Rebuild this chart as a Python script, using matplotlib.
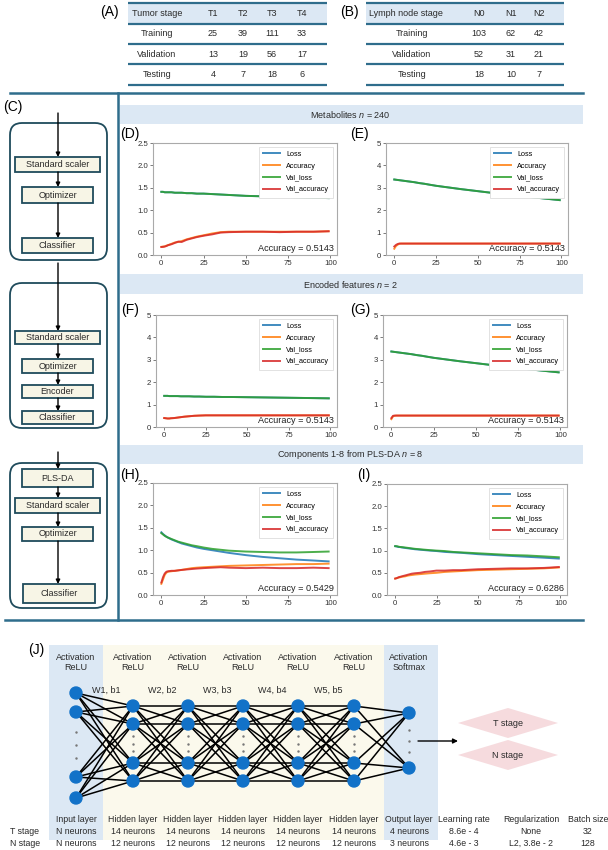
import matplotlib
matplotlib.use("Agg")
import matplotlib.pyplot as plt
from matplotlib.patches import Rectangle, FancyBboxPatch, Polygon, Circle

plt.rcParams["font.family"] = ["Liberation Sans", "DejaVu Sans"]
plt.rcParams["mathtext.fontset"] = "custom"
plt.rcParams["mathtext.it"] = "Liberation Sans:italic"
plt.rcParams["mathtext.rm"] = "Liberation Sans"

# ---- data -----------------------------------------------------------------
T_STAGES = ["T1", "T2", "T3", "T4"]
N_STAGES = ["N0", "N1", "N2"]
SPLITS = ["Training", "Validation", "Testing"]
T_COUNTS = [[25, 39, 111, 33], [13, 19, 56, 17], [4, 7, 18, 6]]
N_COUNTS = [[103, 62, 42], [52, 31, 21], [18, 10, 7]]

FLOW_STEPS = [
    ["Standard scaler", "Optimizer", "Classifier"],
    ["Standard scaler", "Optimizer", "Encoder", "Classifier"],
    ["PLS-DA", "Standard scaler", "Optimizer", "Classifier"],
]
SECTION_TITLES = ["Metabolites $n$ = 240", "Encoded features $n$ = 2",
                  "Components 1-8 from PLS-DA $n$ = 8"]

EPOCHS = [0, 1, 2, 3, 4, 6, 8, 10, 12, 15, 18, 21, 25, 30, 35, 40, 50, 60, 70, 80, 90, 99]

D_LOSS = [1.41, 1.41, 1.40, 1.40, 1.40, 1.40, 1.39, 1.39, 1.39, 1.38, 1.38, 1.37, 1.37, 1.36, 1.35, 1.34, 1.32, 1.31, 1.30, 1.29, 1.28, 1.27]
D_VAL_LOSS = [1.41, 1.41, 1.40, 1.40, 1.40, 1.40, 1.39, 1.39, 1.39, 1.38, 1.38, 1.37, 1.37, 1.36, 1.35, 1.34, 1.32, 1.31, 1.30, 1.29, 1.28, 1.27]
D_ACC = [0.18, 0.19, 0.19, 0.21, 0.22, 0.25, 0.28, 0.29, 0.31, 0.35, 0.38, 0.41, 0.44, 0.48, 0.51, 0.52, 0.52, 0.52, 0.52, 0.52, 0.52, 0.53]
D_VAL_ACC = [0.18, 0.18, 0.19, 0.20, 0.22, 0.24, 0.27, 0.30, 0.29, 0.34, 0.37, 0.40, 0.43, 0.46, 0.50, 0.51, 0.52, 0.52, 0.51, 0.52, 0.52, 0.53]

E_LOSS = [3.37, 3.36, 3.35, 3.34, 3.33, 3.31, 3.29, 3.27, 3.25, 3.21, 3.18, 3.14, 3.09, 3.04, 2.99, 2.94, 2.85, 2.76, 2.68, 2.60, 2.52, 2.45]
E_VAL_LOSS = [3.37, 3.36, 3.35, 3.34, 3.33, 3.31, 3.29, 3.27, 3.25, 3.21, 3.18, 3.14, 3.09, 3.04, 2.99, 2.94, 2.85, 2.76, 2.68, 2.60, 2.52, 2.45]
E_ACC = [0.28, 0.40, 0.46, 0.50, 0.51, 0.51, 0.51, 0.51, 0.51, 0.51, 0.51, 0.51, 0.51, 0.51, 0.51, 0.51, 0.51, 0.51, 0.51, 0.51, 0.51, 0.51]
E_VAL_ACC = [0.38, 0.45, 0.49, 0.51, 0.51, 0.51, 0.51, 0.51, 0.51, 0.51, 0.51, 0.51, 0.51, 0.51, 0.51, 0.51, 0.51, 0.51, 0.51, 0.51, 0.51, 0.51]

F_LOSS = [1.39, 1.39, 1.39, 1.38, 1.38, 1.38, 1.38, 1.37, 1.37, 1.37, 1.36, 1.36, 1.35, 1.35, 1.34, 1.34, 1.33, 1.32, 1.31, 1.30, 1.29, 1.28]
F_VAL_LOSS = [1.39, 1.39, 1.39, 1.38, 1.38, 1.38, 1.38, 1.37, 1.37, 1.37, 1.36, 1.36, 1.35, 1.35, 1.34, 1.34, 1.33, 1.32, 1.31, 1.30, 1.29, 1.28]
F_ACC = [0.40, 0.39, 0.38, 0.38, 0.39, 0.40, 0.42, 0.44, 0.46, 0.48, 0.50, 0.51, 0.52, 0.52, 0.52, 0.52, 0.52, 0.52, 0.52, 0.52, 0.52, 0.52]
F_VAL_ACC = [0.40, 0.39, 0.38, 0.38, 0.39, 0.40, 0.42, 0.44, 0.46, 0.48, 0.50, 0.51, 0.52, 0.52, 0.52, 0.52, 0.52, 0.52, 0.52, 0.52, 0.52, 0.52]

G_LOSS = [3.37, 3.36, 3.35, 3.34, 3.33, 3.31, 3.29, 3.27, 3.25, 3.21, 3.18, 3.14, 3.09, 3.04, 2.99, 2.94, 2.85, 2.76, 2.67, 2.59, 2.51, 2.44]
G_VAL_LOSS = [3.37, 3.36, 3.35, 3.34, 3.33, 3.31, 3.29, 3.27, 3.25, 3.21, 3.18, 3.14, 3.09, 3.04, 2.99, 2.94, 2.85, 2.76, 2.67, 2.59, 2.51, 2.44]
G_ACC = [0.35, 0.48, 0.50, 0.51, 0.51, 0.51, 0.51, 0.51, 0.51, 0.51, 0.51, 0.51, 0.51, 0.51, 0.51, 0.51, 0.51, 0.51, 0.51, 0.51, 0.51, 0.51]
G_VAL_ACC = [0.40, 0.50, 0.51, 0.51, 0.51, 0.51, 0.51, 0.51, 0.51, 0.51, 0.51, 0.51, 0.51, 0.51, 0.51, 0.51, 0.51, 0.51, 0.51, 0.51, 0.51, 0.51]

H_LOSS = [1.40, 1.36, 1.33, 1.30, 1.28, 1.24, 1.21, 1.18, 1.15, 1.12, 1.09, 1.06, 1.03, 1.00, 0.97, 0.94, 0.89, 0.85, 0.82, 0.79, 0.77, 0.75]
H_VAL_LOSS = [1.38, 1.35, 1.32, 1.30, 1.28, 1.25, 1.22, 1.19, 1.17, 1.14, 1.11, 1.09, 1.06, 1.03, 1.01, 0.99, 0.97, 0.96, 0.95, 0.95, 0.96, 0.97]
H_ACC = [0.25, 0.35, 0.45, 0.50, 0.52, 0.53, 0.54, 0.55, 0.56, 0.58, 0.60, 0.61, 0.62, 0.63, 0.64, 0.65, 0.66, 0.67, 0.68, 0.69, 0.69, 0.70]
H_VAL_ACC = [0.28, 0.40, 0.48, 0.52, 0.53, 0.54, 0.54, 0.55, 0.56, 0.57, 0.58, 0.59, 0.60, 0.61, 0.62, 0.61, 0.60, 0.61, 0.60, 0.60, 0.61, 0.60]

I_LOSS = [1.10, 1.09, 1.08, 1.08, 1.07, 1.06, 1.05, 1.04, 1.03, 1.02, 1.01, 1.00, 0.99, 0.97, 0.96, 0.95, 0.92, 0.90, 0.88, 0.86, 0.84, 0.82]
I_VAL_LOSS = [1.10, 1.10, 1.09, 1.08, 1.08, 1.07, 1.06, 1.05, 1.04, 1.03, 1.02, 1.01, 1.00, 0.99, 0.97, 0.96, 0.94, 0.92, 0.90, 0.89, 0.87, 0.85]
I_ACC = [0.37, 0.38, 0.39, 0.40, 0.41, 0.42, 0.44, 0.45, 0.46, 0.47, 0.48, 0.49, 0.50, 0.52, 0.53, 0.54, 0.56, 0.57, 0.58, 0.59, 0.60, 0.62]
I_VAL_ACC = [0.37, 0.38, 0.40, 0.41, 0.42, 0.44, 0.46, 0.48, 0.49, 0.50, 0.52, 0.53, 0.55, 0.55, 0.56, 0.56, 0.58, 0.59, 0.60, 0.60, 0.61, 0.63]

TEST_ACCURACY = {"D": 0.5143, "E": 0.5143, "F": 0.5143, "G": 0.5143, "H": 0.5429, "I": 0.6286}

ACTIVATIONS = ["ReLU"] * 6 + ["Softmax"]
WEIGHT_LABELS = ["W1, b1", "W2, b2", "W3, b3", "W4, b4", "W5, b5"]
LAYER_NAMES = ["Input layer"] + ["Hidden layer"] * 5 + ["Output layer"]
T_NEURONS = ["N neurons"] + ["14 neurons"] * 5 + ["4 neurons"]
N_NEURONS = ["N neurons"] + ["12 neurons"] * 5 + ["3 neurons"]
HYPER_NAMES = ["Learning rate", "Regularization", "Batch size"]
T_HYPER = ["8.6e - 4", "None", "32"]
N_HYPER = ["4.6e - 3", "L2, 3.8e - 2", "128"]
OUTPUTS = ["T stage", "N stage"]

# ---- style ----------------------------------------------------------------
W, H = 608, 850
LINE = "#2f6d8c"
BAND = "#dce8f4"
CREAM = "#fbf9ec"
BOXFILL = "#f7f5e6"
BOXEDGE = "#1f4b5c"
NEURON = "#1272c8"
TXT = "#2a2a2a"
FS = 6.5

fig = plt.figure(figsize=(W / 100, H / 100), dpi=100)
bg = fig.add_axes([0, 0, 1, 1])
bg.set_xlim(0, W)
bg.set_ylim(H, 0)
bg.axis("off")


def px_axes(left, top, right, bottom):
    return fig.add_axes([left / W, 1 - bottom / H, (right - left) / W, (bottom - top) / H])


# ---- tables (A) and (B) ----------------------------------------------------
def draw_table(x0, x1, header, head_x, cols, col_x, counts, row_x):
    bg.add_patch(Rectangle((x0, 3), x1 - x0, 20.5, color=BAND, lw=0))
    for y in [3, 23.5, 43.5, 64, 85]:
        bg.plot([x0, x1], [y, y], color=LINE, lw=1.6, solid_capstyle="butt")
    bg.text(head_x, 13, header, fontsize=FS, ha="left", va="center", color=TXT)
    for c, x in zip(cols, col_x):
        bg.text(x, 13, c, fontsize=FS, ha="center", va="center", color=TXT)
    for i, (split, row) in enumerate(zip(SPLITS, counts)):
        y = 33.5 + i * 20.5
        bg.text(row_x, y, split, fontsize=FS, ha="center", va="center", color=TXT)
        for v, x in zip(row, col_x):
            bg.text(x, y, str(v), fontsize=FS, ha="center", va="center", color=TXT)


bg.text(100, 12, "(A)", fontsize=10, ha="left", va="center")
draw_table(128, 327, "Tumor stage", 132, T_STAGES, [213, 243, 272, 302], T_COUNTS, 157)
bg.text(340, 12, "(B)", fontsize=10, ha="left", va="center")
draw_table(366, 564, "Lymph node stage", 369, N_STAGES, [479, 511, 539], N_COUNTS, 412)

# ---- panel (C) frame -------------------------------------------------------
bg.plot([10, 583], [93, 93], color=LINE, lw=1.8)
bg.plot([5, 583], [620, 620], color=LINE, lw=1.8)
bg.plot([118, 118], [93, 620], color=LINE, lw=1.8)
bg.text(3, 107, "(C)", fontsize=10, ha="left", va="center")


def arrow(x, y0, y1):
    bg.annotate("", xy=(x, y1), xytext=(x, y0),
                arrowprops=dict(arrowstyle="-|>", color="black", lw=1.0,
                                mutation_scale=6, shrinkA=0, shrinkB=0))


# frame (top, bottom), arrow start, box rows (top, bottom, x0, x1)
FLOW_LAYOUT = [
    ((123, 260), 113, [(157, 172, 15, 100), (187, 203, 22, 93), (238, 253, 22, 93)]),
    ((283, 428), 263, [(331, 344, 15, 100), (359, 373, 22, 93), (385, 398, 22, 93), (411, 424, 22, 93)]),
    ((463, 608), 452, [(469, 487, 22, 93), (498, 513, 15, 100), (527, 541, 22, 93), (584, 603, 23, 95)]),
]
cx = 58
for steps, (frame, start, boxes) in zip(FLOW_STEPS, FLOW_LAYOUT):
    bg.add_patch(FancyBboxPatch((10, frame[0]), 97, frame[1] - frame[0],
                                boxstyle="round,pad=0,rounding_size=12",
                                fc="white", ec=BOXEDGE, lw=1.3))
    prev = start
    for label, (t, b, x0, x1) in zip(steps, boxes):
        arrow(cx, prev, t)
        bg.add_patch(Rectangle((x0, t), x1 - x0, b - t, fc=BOXFILL, ec=BOXEDGE, lw=1.3, zorder=3))
        bg.text((x0 + x1) / 2, (t + b) / 2, label, fontsize=FS, ha="center", va="center",
                color=TXT, zorder=4)
        prev = b

# ---- section bands ---------------------------------------------------------
for title, (t, b) in zip(SECTION_TITLES, [(105, 124), (274, 294), (445, 464)]):
    bg.add_patch(Rectangle((120, t), 463, b - t, color=BAND, lw=0))
    bg.text(350, (t + b) / 2, title, fontsize=FS, ha="center", va="center", color=TXT)

# ---- training curves D-I ----------------------------------------------------
PANELS = [
    ("D", (153, 143, 337, 255), 2.5, (D_LOSS, D_ACC, D_VAL_LOSS, D_VAL_ACC), (130, 134)),
    ("E", (386, 143, 568, 255), 5, (E_LOSS, E_ACC, E_VAL_LOSS, E_VAL_ACC), (359, 134)),
    ("F", (156, 315, 337, 427), 5, (F_LOSS, F_ACC, F_VAL_LOSS, F_VAL_ACC), (130, 310)),
    ("G", (383, 315, 567, 427), 5, (G_LOSS, G_ACC, G_VAL_LOSS, G_VAL_ACC), (360, 310)),
    ("H", (153, 483, 337, 595), 2.5, (H_LOSS, H_ACC, H_VAL_LOSS, H_VAL_ACC), (130, 475)),
    ("I", (387, 484, 567, 595), 2.5, (I_LOSS, I_ACC, I_VAL_LOSS, I_VAL_ACC), (364, 475)),
]
NAMES = ["Loss", "Accuracy", "Val_loss", "Val_accuracy"]
COLORS = ["tab:blue", "tab:orange", "tab:green", "tab:red"]

for key, box, ymax, series, lab in PANELS:
    ax = px_axes(*box)
    for name, color, vals in zip(NAMES, COLORS, series):
        ax.plot(EPOCHS, vals, color=color, lw=1.4, alpha=0.85, label=name)
    ax.set_ylim(0, ymax)
    ax.set_xticks([0, 25, 50, 75, 100])
    if ymax == 5:
        ax.set_yticks([0, 1, 2, 3, 4, 5])
    else:
        ax.set_yticks([0, 0.5, 1.0, 1.5, 2.0, 2.5])
    ax.tick_params(labelsize=5.6, length=2, width=0.6, color="#666", labelcolor="#333", pad=1.5)
    for s in ax.spines.values():
        s.set_color("#aaaaaa")
        s.set_linewidth(0.8)
    leg = ax.legend(loc="upper right", fontsize=5.2, handlelength=2.4, borderpad=0.6,
                    labelspacing=0.65, fancybox=False, framealpha=1)
    leg.get_frame().set_edgecolor("#dddddd")
    leg.get_frame().set_linewidth(0.6)
    ax.text(0.985, 0.02, f"Accuracy = {TEST_ACCURACY[key]:.4f}", transform=ax.transAxes,
            ha="right", va="bottom", fontsize=6.6, color="#222")
    bg.text(lab[0], lab[1], f"({key})", fontsize=10, ha="center", va="center")

# ---- panel (J) network -----------------------------------------------------
bg.text(28, 650, "(J)", fontsize=10, ha="left", va="center")
bg.add_patch(Rectangle((103, 645), 281, 195, color=CREAM, lw=0))
bg.add_patch(Rectangle((49, 645), 54, 195, color=BAND, lw=0))
bg.add_patch(Rectangle((384, 645), 54, 195, color=BAND, lw=0))

layer_x = [76, 133, 188, 243, 298, 354, 409]
input_y = [693, 712, 777, 798]
hidden_y = [706, 724, 763, 781]
output_y = [713, 768]
layer_y = [input_y] + [hidden_y] * 5 + [output_y]

for i in range(len(layer_x) - 1):
    for ya in layer_y[i]:
        for yb in layer_y[i + 1]:
            bg.plot([layer_x[i], layer_x[i + 1]], [ya, yb], color="black", lw=1.1, zorder=2)
for x, ys in zip(layer_x, layer_y):
    for y in ys:
        bg.add_patch(Circle((x, y), 6, color=NEURON, zorder=3))
    gap_top = ys[len(ys) // 2 - 1] if len(ys) > 2 else ys[0]
    gap_bot = ys[len(ys) // 2]
    for f in (0.3, 0.5, 0.7):
        bg.plot(x, gap_top + (gap_bot - gap_top) * f, marker=".", ms=1.5, color="#777", zorder=3)

for x, act in zip(layer_x, ACTIVATIONS):
    bg.text(x, 657, "Activation", fontsize=FS, ha="center", va="center", color=TXT)
    bg.text(x, 668, act, fontsize=FS, ha="center", va="center", color=TXT)
for i, w in enumerate(WEIGHT_LABELS):
    bg.text((layer_x[i] + layer_x[i + 1]) / 2 + 2, 690, w, fontsize=FS, ha="center",
            va="center", color=TXT, zorder=4)

for x, name, tn, nn in zip(layer_x, LAYER_NAMES, T_NEURONS, N_NEURONS):
    bg.text(x, 819, name, fontsize=6.3, ha="center", va="center", color=TXT)
    bg.text(x, 831, tn, fontsize=6.3, ha="center", va="center", color=TXT)
    bg.text(x, 843, nn, fontsize=6.3, ha="center", va="center", color=TXT)
bg.text(25, 831, "T stage", fontsize=6.3, ha="center", va="center", color=TXT)
bg.text(25, 843, "N stage", fontsize=6.3, ha="center", va="center", color=TXT)
for x, name, tv, nv in zip([464, 531, 588], HYPER_NAMES, T_HYPER, N_HYPER):
    bg.text(x, 819, name, fontsize=6.3, ha="center", va="center", color=TXT)
    bg.text(x, 831, tv, fontsize=6.3, ha="center", va="center", color=TXT)
    bg.text(x, 843, nv, fontsize=6.3, ha="center", va="center", color=TXT)

bg.annotate("", xy=(458, 741), xytext=(418, 741),
            arrowprops=dict(arrowstyle="-|>", color="black", lw=1.0, mutation_scale=7,
                            shrinkA=0, shrinkB=0))
for label, cy in zip(OUTPUTS, [723, 755]):
    bg.add_patch(Polygon([(458, cy), (508, cy - 15), (558, cy), (508, cy + 15)],
                         closed=True, fc="#f6dbde", ec="none"))
    bg.text(508, cy, label, fontsize=FS, ha="center", va="center", color=TXT)

fig.savefig("out.png", dpi=100)
plt.close(fig)
